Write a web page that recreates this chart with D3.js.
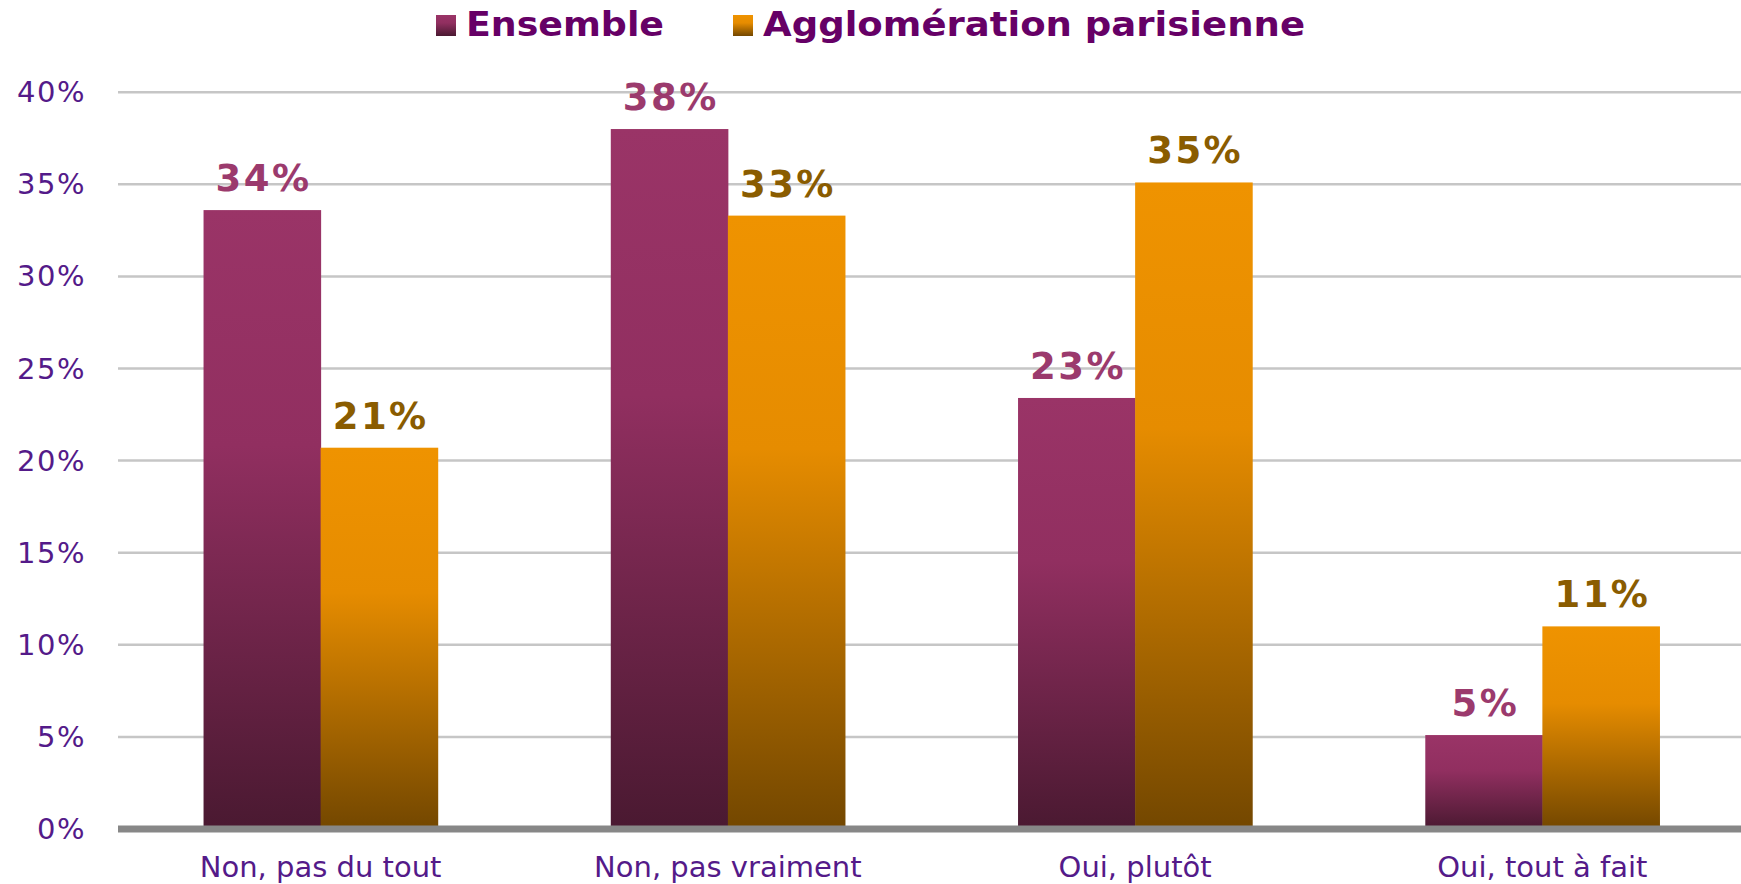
<!DOCTYPE html>
<html>
<head>
<meta charset="utf-8">
<script src="https://cdn.jsdelivr.net/npm/d3@7"></script>
<style>
  body { margin: 0; background: #fff; }
  svg { display: block; }
</style>
</head>
<body>
<script>
var categories = ["Non, pas du tout", "Non, pas vraiment", "Oui, plutôt", "Oui, tout à fait"];
var seriesNames = ["Ensemble", "Agglomération parisienne"];
var ensembleValues = [33.6, 38.0, 23.4, 5.1];
var parisValues = [20.7, 33.3, 35.1, 11.0];
var yTicks = [0, 5, 10, 15, 20, 25, 30, 35, 40];

var width = 1741, height = 884;

var svg = d3.select("body").append("svg")
    .attr("width", width)
    .attr("height", height);

// gradients, one per series
var defs = svg.append("defs");
var gradStops = [
    [["0", "#9a3467"], ["0.38", "#912f60"], ["1", "#4a1931"]],
    [["0", "#ef9300"], ["0.38", "#e68c00"], ["1", "#734700"]]
];
var gradIds = ["gEns", "gPar"];
gradStops.forEach(function (stops, i) {
    var g = defs.append("linearGradient")
        .attr("id", gradIds[i])
        .attr("x1", 0).attr("y1", 0).attr("x2", 0).attr("y2", 1);
    g.selectAll("stop").data(stops).enter().append("stop")
        .attr("offset", function (d) { return d[0]; })
        .attr("stop-color", function (d) { return d[1]; });
});
var labelColors = ["#9b3a6d", "#8a5c00"];

var y = d3.scaleLinear().domain([0, 40]).range([829, 92.2]);

var x0 = d3.scaleBand()
    .domain(categories)
    .range([117, 1746])
    .paddingInner(0.425)
    .paddingOuter(0.2125);

var x1 = d3.scaleBand()
    .domain(seriesNames)
    .range([0, x0.bandwidth()]);

// gridlines
svg.selectAll("line.grid")
    .data(yTicks.filter(function (d) { return d > 0; }))
    .enter().append("line")
        .attr("class", "grid")
        .attr("x1", 118)
        .attr("x2", width)
        .attr("y1", function (d) { return y(d); })
        .attr("y2", function (d) { return y(d); })
        .attr("stroke", "#c6c6c6")
        .attr("stroke-width", 2.5);

// y labels
svg.selectAll("text.ytick")
    .data(yTicks)
    .enter().append("text")
        .attr("class", "ytick")
        .attr("x", 86)
        .attr("y", function (d) { return y(d); })
        .attr("text-anchor", "end")
        .attr("dominant-baseline", "central")
        .attr("font-family", "'DejaVu Sans', Verdana, sans-serif")
        .attr("font-size", 29)
        .attr("letter-spacing", 1.5)
        .attr("fill", "#541a89")
        .text(function (d) { return d + "%"; });

// bars
var rows = categories.map(function (c, i) {
    return { cat: c, vals: [ensembleValues[i], parisValues[i]] };
});

var groups = svg.selectAll("g.cat")
    .data(rows)
    .enter().append("g")
        .attr("class", "cat")
        .attr("transform", function (d) { return "translate(" + x0(d.cat) + ",0)"; });

groups.selectAll("rect")
    .data(function (d) { return d.vals.map(function (v, j) { return { s: seriesNames[j], j: j, v: v }; }); })
    .enter().append("rect")
        .attr("x", function (d) { return x1(d.s); })
        .attr("y", function (d) { return y(d.v); })
        .attr("width", x1.bandwidth() + 0.5)
        .attr("height", function (d) { return y(0) - y(d.v); })
        .attr("fill", function (d) { return "url(#" + gradIds[d.j] + ")"; });

groups.selectAll("text")
    .data(function (d) { return d.vals.map(function (v, j) { return { s: seriesNames[j], j: j, v: v }; }); })
    .enter().append("text")
        .attr("x", function (d) { return x1(d.s) + x1.bandwidth() / 2 + 1.5; })
        .attr("y", function (d) { return y(d.v) - 19; })
        .attr("text-anchor", "middle")
        .attr("font-family", "'DejaVu Sans', Verdana, sans-serif")
        .attr("font-weight", "bold")
        .attr("font-size", 37)
        .attr("letter-spacing", 2.5)
        .attr("fill", function (d) { return labelColors[d.j]; })
        .text(function (d) { return Math.round(d.v) + "%"; });

// baseline axis
svg.append("line")
    .attr("x1", 118)
    .attr("x2", width)
    .attr("y1", y(0))
    .attr("y2", y(0))
    .attr("stroke", "#878787")
    .attr("stroke-width", 7);

// x labels
svg.selectAll("text.xlab")
    .data(categories)
    .enter().append("text")
        .attr("class", "xlab")
        .attr("x", function (d) { return x0(d) + x0.bandwidth() / 2; })
        .attr("y", 877)
        .attr("text-anchor", "middle")
        .attr("font-family", "'DejaVu Sans', Verdana, sans-serif")
        .attr("font-size", 29)
        .attr("fill", "#541a89")
        .text(function (d) { return d; });

// legend
var legendX = [436, 733];
var legendLen = [198, 542];
var legend = svg.selectAll("g.legend")
    .data(seriesNames)
    .enter().append("g")
        .attr("class", "legend")
        .attr("transform", function (d, i) { return "translate(" + legendX[i] + ",0)"; });

legend.append("rect")
    .attr("x", 0)
    .attr("y", 15)
    .attr("width", 20)
    .attr("height", 21)
    .attr("fill", function (d, i) { return "url(#" + gradIds[i] + ")"; });

legend.append("text")
    .attr("x", 30)
    .attr("y", 36)
    .attr("font-family", "'DejaVu Sans', Verdana, sans-serif")
    .attr("font-weight", "bold")
    .attr("font-size", 33)
    .attr("textLength", function (d, i) { return legendLen[i]; })
    .attr("lengthAdjust", "spacingAndGlyphs")
    .attr("fill", "#660066")
    .text(function (d) { return d; });
</script>
</body>
</html>
